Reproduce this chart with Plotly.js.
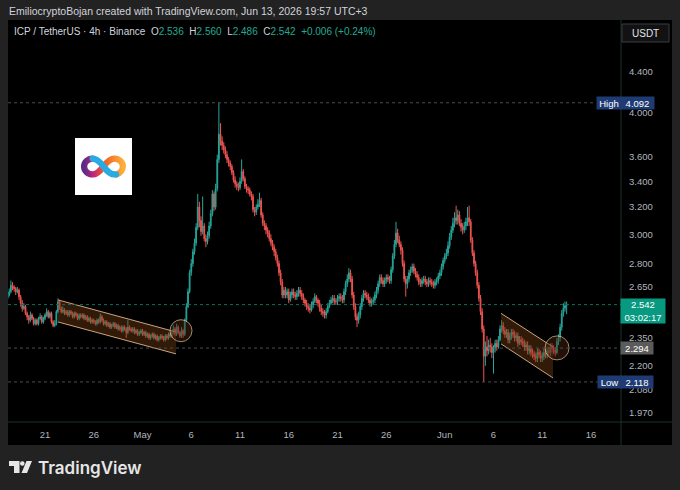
<!DOCTYPE html>
<html><head><meta charset="utf-8">
<script src="https://cdn.plot.ly/plotly-3.0.1.min.js"></script>
<style>html,body{margin:0;padding:0;background:#222222;}#chart{width:680px;height:490px;}</style>
</head><body><div id="chart"></div>
<script>
// ---------- DATA ----------
const startTime = Date.UTC(2026, 3, 17, 4, 0); // first 4h candle
const firstOpen = 2.58;
const closes = [
2.60,2.62,2.66,2.65,2.64,
2.62,2.63,2.59,2.55,2.52,2.53,
2.49,2.47,2.45,2.48,2.46,2.43,
2.45,2.43,2.46,2.47,2.44,2.46,
2.48,2.50,2.47,2.49,2.44,2.42,
2.43,2.50,2.56,2.52,2.50,2.51,
2.49,2.50,2.48,2.50,2.49,2.47,
2.49,2.48,2.46,2.48,2.47,2.48,
2.46,2.47,2.45,2.46,2.44,2.45,
2.44,2.43,2.45,2.44,2.47,2.45,
2.43,2.44,2.42,2.43,2.41,2.42,
2.43,2.41,2.42,2.40,2.41,2.39,
2.41,2.40,2.38,2.41,2.40,2.39,
2.40,2.38,2.39,2.37,2.38,2.39,
2.37,2.38,2.36,2.37,2.35,2.36,
2.37,2.35,2.36,2.34,2.35,2.36,
2.35,2.34,2.36,2.35,2.37,2.36,
2.38,2.40,2.37,2.41,2.38,2.36,
2.39,2.37,2.45,2.53,2.62,2.74,
2.80,2.88,2.94,3.05,3.20,3.10,
3.02,3.06,2.97,2.95,2.99,3.06,
3.15,3.30,3.20,3.34,3.58,3.80,
3.74,3.70,3.66,3.62,3.58,3.55,
3.52,3.47,3.41,3.38,3.36,3.35,
3.40,3.48,3.42,3.36,3.34,3.33,
3.30,3.28,3.18,3.16,3.20,3.22,
3.25,3.14,3.08,3.06,3.03,3.01,
2.97,2.94,2.91,2.88,2.84,2.80,
2.74,2.68,2.60,2.63,2.60,2.62,
2.57,2.60,2.62,2.60,2.59,2.61,
2.63,2.61,2.59,2.57,2.55,2.53,
2.52,2.51,2.54,2.56,2.59,2.57,
2.55,2.52,2.50,2.49,2.48,2.50,
2.53,2.55,2.57,2.58,2.56,2.56,
2.58,2.59,2.58,2.57,2.62,2.67,
2.70,2.74,2.70,2.60,2.53,2.47,
2.45,2.48,2.53,2.58,2.61,2.60,
2.59,2.57,2.55,2.56,2.57,2.60,
2.63,2.67,2.71,2.69,2.67,2.69,
2.71,2.70,2.69,2.76,2.85,2.93,
3.01,2.96,2.93,2.89,2.80,2.70,
2.67,2.70,2.74,2.76,2.78,2.75,
2.73,2.71,2.68,2.67,2.69,2.70,
2.68,2.67,2.69,2.68,2.67,2.66,
2.68,2.69,2.72,2.74,2.78,2.82,
2.85,2.87,2.92,2.98,3.03,3.08,
3.12,3.10,3.14,3.08,3.05,3.03,
3.06,3.09,3.12,3.09,2.96,2.87,
2.80,2.74,2.66,2.58,2.50,2.40,
2.25,2.30,2.28,2.31,2.30,2.27,
2.29,2.32,2.30,2.34,2.40,2.42,
2.39,2.37,2.38,2.34,2.36,2.38,
2.37,2.35,2.36,2.32,2.34,2.33,
2.32,2.30,2.31,2.28,2.29,2.27,
2.26,2.25,2.24,2.27,2.26,2.24,
2.25,2.27,2.26,2.28,2.27,2.30,
2.29,2.28,2.27,2.33,2.35,2.41,
2.49,2.52,2.536,2.542];
const highs = [
2.62,2.64,2.69,2.68,2.66,
2.65,2.65,2.64,2.60,2.57,2.55,
2.54,2.50,2.48,2.50,2.49,2.47,
2.46,2.46,2.47,2.49,2.48,2.47,
2.49,2.52,2.51,2.50,2.50,2.45,
2.45,2.51,2.58,2.57,2.53,2.53,
2.52,2.51,2.51,2.51,2.51,2.50,
2.50,2.50,2.49,2.49,2.49,2.49,
2.49,2.48,2.48,2.47,2.47,2.46,
2.46,2.45,2.46,2.46,2.49,2.48,
2.46,2.45,2.45,2.44,2.44,2.43,
2.44,2.44,2.43,2.43,2.42,2.42,
2.42,2.42,2.41,2.45,2.42,2.41,
2.41,2.41,2.40,2.40,2.39,2.40,
2.40,2.39,2.39,2.38,2.38,2.37,
2.38,2.38,2.37,2.37,2.36,2.37,
2.37,2.36,2.37,2.37,2.38,2.38,
2.39,2.42,2.41,2.43,2.42,2.39,
2.41,2.40,2.46,2.55,2.64,2.76,
2.83,2.90,2.97,3.08,3.30,3.24,
3.13,3.28,3.08,3.00,3.02,3.09,
3.18,3.33,3.32,3.38,3.62,4.092,
3.90,3.78,3.73,3.69,3.65,3.60,
3.57,3.54,3.49,3.44,3.40,3.39,
3.43,3.58,3.50,3.44,3.38,3.36,
3.35,3.32,3.30,3.20,3.22,3.26,
3.31,3.27,3.16,3.10,3.08,3.05,
3.03,3.00,2.96,2.93,2.90,2.86,
2.82,2.76,2.70,2.65,2.65,2.64,
2.64,2.62,2.64,2.64,2.62,2.63,
2.65,2.65,2.63,2.61,2.58,2.57,
2.55,2.54,2.56,2.58,2.61,2.60,
2.58,2.57,2.54,2.52,2.51,2.52,
2.55,2.57,2.59,2.60,2.60,2.58,
2.60,2.61,2.61,2.60,2.64,2.69,
2.73,2.77,2.76,2.72,2.62,2.55,
2.49,2.50,2.55,2.60,2.63,2.63,
2.62,2.61,2.59,2.58,2.59,2.62,
2.65,2.69,2.73,2.73,2.71,2.71,
2.73,2.73,2.72,2.78,2.87,2.96,
3.09,3.04,2.99,2.95,2.91,2.82,
2.72,2.72,2.76,2.78,2.80,2.80,
2.77,2.75,2.73,2.70,2.71,2.72,
2.72,2.70,2.71,2.71,2.70,2.69,
2.70,2.71,2.74,2.76,2.80,2.84,
2.87,2.90,2.95,3.01,3.06,3.12,
3.16,3.21,3.18,3.17,3.11,3.08,
3.09,3.12,3.20,3.21,3.11,2.98,
2.89,2.82,2.76,2.68,2.60,2.52,
2.42,2.33,2.36,2.34,2.35,2.32,
2.31,2.34,2.34,2.36,2.42,2.45,
2.44,2.41,2.40,2.40,2.38,2.40,
2.40,2.39,2.38,2.38,2.36,2.36,
2.35,2.34,2.33,2.33,2.31,2.31,
2.29,2.28,2.27,2.29,2.29,2.28,
2.27,2.29,2.29,2.30,2.30,2.32,
2.32,2.31,2.30,2.35,2.37,2.43,
2.51,2.55,2.56,2.560];
const lows = [
2.57,2.59,2.61,2.63,2.62,
2.60,2.61,2.57,2.53,2.50,2.51,
2.48,2.45,2.43,2.44,2.45,2.42,
2.42,2.42,2.42,2.45,2.43,2.43,
2.45,2.47,2.46,2.46,2.43,2.41,
2.41,2.42,2.49,2.51,2.49,2.49,
2.48,2.48,2.47,2.47,2.48,2.46,
2.46,2.47,2.45,2.45,2.46,2.46,
2.45,2.45,2.44,2.44,2.43,2.43,
2.43,2.42,2.42,2.43,2.43,2.44,
2.42,2.42,2.41,2.41,2.40,2.40,
2.41,2.40,2.40,2.39,2.39,2.38,
2.38,2.39,2.35,2.37,2.39,2.38,
2.38,2.37,2.37,2.36,2.36,2.37,
2.36,2.36,2.35,2.35,2.34,2.34,
2.35,2.34,2.34,2.33,2.33,2.34,
2.34,2.33,2.33,2.34,2.34,2.35,
2.35,2.37,2.36,2.36,2.37,2.35,
2.35,2.35,2.36,2.44,2.52,2.61,
2.72,2.78,2.86,2.92,3.03,3.05,
2.99,3.00,2.95,2.91,2.93,2.97,
3.04,3.13,3.17,3.18,3.32,3.55,
3.70,3.66,3.63,3.59,3.55,3.52,
3.49,3.45,3.39,3.35,3.33,3.32,
3.33,3.38,3.40,3.34,3.31,3.30,
3.28,3.25,3.16,3.13,3.14,3.18,
3.20,3.12,3.06,3.03,3.00,2.98,
2.95,2.92,2.89,2.85,2.82,2.78,
2.72,2.66,2.58,2.58,2.58,2.58,
2.55,2.56,2.58,2.58,2.57,2.57,
2.59,2.59,2.57,2.55,2.53,2.51,
2.50,2.49,2.50,2.52,2.55,2.55,
2.53,2.50,2.48,2.47,2.46,2.46,
2.49,2.52,2.54,2.55,2.54,2.54,
2.54,2.56,2.56,2.55,2.55,2.60,
2.65,2.68,2.68,2.58,2.51,2.45,
2.41,2.43,2.46,2.51,2.56,2.58,
2.57,2.55,2.53,2.53,2.54,2.55,
2.58,2.61,2.65,2.67,2.65,2.65,
2.67,2.68,2.67,2.67,2.74,2.83,
2.91,2.94,2.91,2.86,2.78,2.68,
2.59,2.64,2.68,2.72,2.74,2.73,
2.71,2.69,2.66,2.65,2.65,2.67,
2.66,2.65,2.65,2.66,2.65,2.64,
2.64,2.66,2.67,2.70,2.72,2.76,
2.80,2.83,2.85,2.90,2.96,3.01,
3.05,3.07,3.07,3.06,3.02,3.00,
3.01,3.03,3.06,3.06,2.94,2.85,
2.78,2.72,2.64,2.56,2.48,2.38,
2.118,2.20,2.25,2.26,2.27,2.24,
2.16,2.27,2.28,2.29,2.33,2.38,
2.37,2.35,2.35,2.32,2.32,2.34,
2.35,2.33,2.33,2.30,2.31,2.31,
2.30,2.28,2.28,2.26,2.26,2.25,
2.24,2.23,2.22,2.22,2.24,2.22,
2.22,2.23,2.24,2.24,2.25,2.25,
2.27,2.26,2.25,2.26,2.31,2.33,
2.39,2.47,2.50,2.486];

const xTickDates = ['2026-04-21','2026-04-26','2026-05-01','2026-05-06','2026-05-11','2026-05-16','2026-05-21','2026-05-26','2026-06-01','2026-06-06','2026-06-11','2026-06-16'];
const xTickLabels = ['21','26','May','6','11','16','21','26','Jun','6','11','16'];
const yTickValues = [1.97, 2.08, 2.2, 2.35, 2.65, 2.8, 3.0, 3.2, 3.4, 3.6, 4.0, 4.4];
const yTickLabels = ['1.970','2.080','2.200','2.350','2.650','2.800','3.000','3.200','3.400','3.600','4.000','4.400'];

const highPrice = 4.092, lowPrice = 2.118, lastPrice = 2.542, linePrice = 2.294;
const countdown = '03:02:17';
const legendValues = {O:'2.536', H:'2.560', L:'2.486', C:'2.542', chg:'+0.006 (+0.24%)'};

// drawings (date / price)
const channel1Dates = ['2026-04-22 08:00', '2026-05-04 10:30'];
const channel1Upper = [2.57, 2.383];
const channel1Lower = [2.44, 2.263];
const channel2Dates = ['2026-06-06 18:30', '2026-06-12 02:30'];
const channel2Upper = [2.49, 2.30];
const channel2Lower = [2.317, 2.138];
const circleDates = ['2026-05-04 22:45', '2026-06-12 12:20'];
const circlePrices = [2.39, 2.295];

// ---------- BUILD ----------
const fmt = t => new Date(t).toISOString().slice(0,16).replace('T',' ');
const times = closes.map((_, i) => fmt(startTime + i*4*3600*1000));
const opens = [firstOpen].concat(closes.slice(0, -1));

const W = 680, H = 490, ML = 8, MR = 59, MT = 20, MB = 68;
const PW = W - ML - MR, PH = H - MT - MB;
const px = x => (x - ML) / PW;
const py = y => (H - MB - y) / PH;
const lg = v => Math.log10(v);
const pathPx = pts => 'M' + pts.map(p => px(p[0]).toFixed(5) + ',' + py(p[1]).toFixed(5)).join(' L') + ' Z';

const UP = '#26a69a', DN = '#ef5350', TXT = '#b2b5be';

const traces = [{
  type: 'candlestick', x: times, open: opens, high: highs, low: lows, close: closes,
  increasing: {line: {color: UP, width: 1}, fillcolor: UP},
  decreasing: {line: {color: DN, width: 1}, fillcolor: DN},
  whiskerwidth: 0, showlegend: false, hoverinfo: 'skip'
}];
function channel(d, up, lo) {
  traces.push({type:'scatter', mode:'lines', x:[d[0], d[1], d[1], d[0], d[0]], y:[up[0], up[1], lo[1], lo[0], up[0]],
    fill:'toself', fillcolor:'rgba(120,62,20,0.42)', line:{width:0}, showlegend:false, hoverinfo:'skip'});
  traces.push({type:'scatter', mode:'lines', x:d, y:up, line:{color:'#caa47e', width:1}, showlegend:false, hoverinfo:'skip'});
  traces.push({type:'scatter', mode:'lines', x:d, y:lo, line:{color:'#caa47e', width:1}, showlegend:false, hoverinfo:'skip'});
}
channel(channel1Dates, channel1Upper, channel1Lower);
channel(channel2Dates, channel2Upper, channel2Lower);
traces.push({type:'scatter', mode:'markers', x:circleDates, y:circlePrices, showlegend:false, hoverinfo:'skip',
  marker:{symbol:'circle', size:[22, 24], color:'rgba(85,38,15,0.6)', line:{color:'#e3c8a6', width:1}}});

const SEP = '#17352f';
const shapes = [
  {type:'rect', xref:'paper', yref:'paper', x0:px(8), x1:px(672), y0:py(445), y1:py(20), fillcolor:'#000', line:{width:0}, layer:'below'},
  {type:'line', xref:'paper', yref:'paper', x0:px(621), x1:px(621), y0:py(20), y1:py(445), line:{color:SEP, width:1}},
  {type:'line', xref:'paper', yref:'paper', x0:px(8), x1:px(672), y0:py(422), y1:py(422), line:{color:SEP, width:1}},
  {type:'line', xref:'paper', yref:'y', x0:0, x1:px(596), y0:highPrice, y1:highPrice, line:{color:'#4a4d55', width:1, dash:'dot'}},
  {type:'line', xref:'paper', yref:'y', x0:0, x1:1, y0:lastPrice, y1:lastPrice, line:{color:'#0a6e5e', width:1, dash:'dot'}},
  {type:'line', xref:'paper', yref:'y', x0:0, x1:1, y0:linePrice, y1:linePrice, line:{color:'#4a4d55', width:1, dash:'dot'}},
  {type:'line', xref:'paper', yref:'y', x0:0, x1:px(598), y0:lowPrice, y1:lowPrice, line:{color:'#4a4d55', width:1, dash:'dot'}},
  // USDT box
  {type:'path', xref:'paper', yref:'paper', path: pathPx([[622,24],[669,24],[669,42],[622,42]]), fillcolor:'#121212', line:{color:'#3a3d44', width:1}},
  // TradingView logo mark
  {type:'path', xref:'paper', yref:'paper', path: pathPx([[9,461],[19.5,461],[19.5,473],[14,473],[14,466],[9,466]]), fillcolor:'#e6e6e6', line:{width:0}},
  {type:'circle', xref:'paper', yref:'paper', x0:px(20), x1:px(24.6), y0:py(461.2), y1:py(465.8), fillcolor:'#e6e6e6', line:{width:0}},
  {type:'path', xref:'paper', yref:'paper', path: pathPx([[26.5,461],[32,461],[27,473],[21.5,473]]), fillcolor:'#e6e6e6', line:{width:0}}
];

const F = 'Liberation Sans, Arial, sans-serif';
const tc = '#22ab94';
const legendText = '<span style="color:#d1d4dc">ICP / TetherUS · 4h · Binance</span>  ' +
  ['O','H','L','C'].map(k => '<span style="color:#d1d4dc">' + k + '</span><span style="color:' + tc + '">' + legendValues[k] + '</span>').join('  ') +
  '  <span style="color:' + tc + '">' + legendValues.chg + '</span>';

function lab(text, xc, w, price, bg, extra) {
  return Object.assign({text:text, xref:'paper', yref:'y', x:px(xc), y:lg(price), xanchor:'center', yanchor:'middle',
    width:w, height:12, bgcolor:bg, borderpad:0, showarrow:false, font:{family:F, size:9.5, color:'#ffffff'}}, extra || {});
}
const annotations = [
  {text:'EmiliocryptoBojan created with TradingView.com, Jun 13, 2026 19:57 UTC+3', xref:'paper', yref:'paper', x:px(7), y:py(10.5),
   xanchor:'left', yanchor:'middle', showarrow:false, font:{family:F, size:10.5, color:'#d1d4dc'}},
  {text:legendText, xref:'paper', yref:'paper', x:px(12), y:py(32), xanchor:'left', yanchor:'middle', showarrow:false, font:{family:F, size:10, color:'#d1d4dc'}},
  {text:'USDT', xref:'paper', yref:'paper', x:px(645.5), y:py(33), xanchor:'center', yanchor:'middle', showarrow:false, font:{family:F, size:10, color:'#e0e3eb'}},
  lab('High', 608.5, 24, highPrice, '#1f3b73'),
  lab(highPrice.toFixed(3), 637, 33, highPrice, '#1f3b73'),
  lab(lastPrice.toFixed(3) + '<br>' + countdown, 643, 44, lastPrice, '#089981', {height:24, yanchor:'top', yshift:6.5}),
  lab(linePrice.toFixed(3), 637, 32, linePrice, '#5b5b5b'),
  lab('Low', 609.5, 23, lowPrice, '#1f3b73'),
  lab(lowPrice.toFixed(3), 637, 32, lowPrice, '#1f3b73'),
  {text:'TradingView', xref:'paper', yref:'paper', x:px(36), y:py(467.5), xanchor:'left', yanchor:'middle', showarrow:false,
   font:{family:'Inter, Roboto, sans-serif', size:17, color:'#e6e6e6', weight:600}}
];

const icpSvg = "<svg xmlns='http://www.w3.org/2000/svg' viewBox='0 0 100 100'>" +
 "<defs><linearGradient id='a' x1='0' y1='0' x2='1' y2='0'><stop offset='0' stop-color='#5b2a86'/><stop offset='0.5' stop-color='#c2267a'/><stop offset='1' stop-color='#f15a24'/></linearGradient>" +
 "<linearGradient id='b' x1='0' y1='0' x2='1' y2='0'><stop offset='0' stop-color='#f15a24'/><stop offset='1' stop-color='#fbb03b'/></linearGradient></defs>" +
 "<rect width='100' height='100' fill='#ffffff'/>" +
 "<path d='M50,50 C44,58 38,64 31,64 C22,64 16,57 16,50 C16,43 22,36 31,36' fill='none' stroke='url(#a)' stroke-width='11' stroke-linecap='round'/>" +
 "<path d='M50,50 C56,42 62,36 69,36 C78,36 84,43 84,50 C84,56 79,62 72,64' fill='none' stroke='url(#b)' stroke-width='11' stroke-linecap='round'/>" +
 "<path d='M31,36 C38,36 44,42 50,50 C56,58 62,64 69,64 C71,64 72,64 72,64' fill='none' stroke='#29abe2' stroke-width='11' stroke-linecap='round'/>" +
 "</svg>";

const layout = {
  width: W, height: H, margin: {l:ML, r:MR, t:MT, b:MB, pad:0},
  paper_bgcolor: '#222222', plot_bgcolor: '#000000', showlegend: false,
  xaxis: {type:'date', range:['2026-04-17 04:55','2026-06-19 01:50'], rangeslider:{visible:false},
    tickvals: xTickDates, ticktext: xTickLabels, ticks:'', showgrid:false, zeroline:false, showline:false,
    tickfont:{family:F, size:9.5, color:TXT}, ticklabelstandoff:5},
  yaxis: {type:'log', side:'right', range:[lg(1.927), lg(4.974)], tickvals: yTickValues, ticktext: yTickLabels,
    ticks:'', showgrid:false, zeroline:false, showline:false, tickfont:{family:F, size:9.5, color:TXT}, ticklabelstandoff:7},
  shapes: shapes, annotations: annotations,
  images: [{source:'data:image/svg+xml;charset=utf-8,' + encodeURIComponent(icpSvg), xref:'paper', yref:'paper',
    x:px(75), y:py(138), sizex:57/PW, sizey:57/PH, sizing:'stretch', xanchor:'left', yanchor:'top', layer:'above'}]
};
Plotly.newPlot('chart', traces, layout, {staticPlot:true, displayModeBar:false});
</script></body></html>
